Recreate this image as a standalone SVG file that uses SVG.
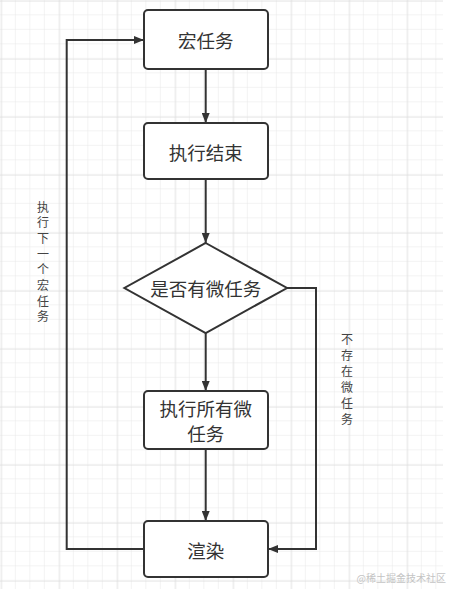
<svg xmlns="http://www.w3.org/2000/svg" width="450" height="589" viewBox="0 0 450 589">
<style>
.node{fill:#fff;stroke:#333;stroke-width:2}
.lbl{font-family:"Noto Sans CJK SC","Noto Sans",sans-serif;font-size:18.5px;fill:#333;text-anchor:middle;dominant-baseline:central}
.lbl2{font-family:"Noto Sans CJK SC","Noto Sans",sans-serif;font-size:18.5px;fill:#333;text-anchor:middle}
.side{font-family:"Noto Sans CJK SC","Noto Sans",sans-serif;font-size:12px;fill:#444;text-anchor:middle;dominant-baseline:central}
.edge{fill:none;stroke:#333;stroke-width:2}
</style>
<defs>
<pattern id="minor" x="1.3" y="0.8" width="14.5" height="14.5" patternUnits="userSpaceOnUse">
<path d="M14.5 0V14.5M0 14.5H14.5" fill="none" stroke="#e8e8e8" stroke-width="1"/>
</pattern>
<pattern id="major" x="1.3" y="0.8" width="58" height="58" patternUnits="userSpaceOnUse">
<path d="M0 0V58M0 0H58" fill="none" stroke="#d9d9d9" stroke-width="1"/>
</pattern>
<marker id="arr" viewBox="0 0 10 8" refX="10" refY="4" markerWidth="10" markerHeight="8" markerUnits="userSpaceOnUse" orient="auto">
<path d="M0 0L10 4L0 8Z" fill="#333"/>
</marker>
</defs>
<rect width="450" height="589" fill="#fff"/>
<rect x="0" y="0" width="443" height="589" fill="url(#minor)"/>
<rect x="0" y="0" width="443" height="589" fill="url(#major)"/>
<g id="connectors">
<path class="edge" d="M205.7 69V123" marker-end="url(#arr)"/>
<path class="edge" d="M205.7 179V243" marker-end="url(#arr)"/>
<path class="edge" d="M205.7 333V391" marker-end="url(#arr)"/>
<path class="edge" d="M205.7 449V521" marker-end="url(#arr)"/>
<path class="edge" d="M144 549H66.7V40H144" marker-end="url(#arr)"/>
<path class="edge" d="M287 288H316V549H268" marker-end="url(#arr)"/>
<text class="side" x="43" y="206">执</text>
<text class="side" x="43" y="221.7">行</text>
<text class="side" x="43" y="237.4">下</text>
<text class="side" x="43" y="253.1">一</text>
<text class="side" x="43" y="268.8">个</text>
<text class="side" x="43" y="284.5">宏</text>
<text class="side" x="43" y="300.2">任</text>
<text class="side" x="43" y="315.9">务</text>
<text class="side" x="347" y="338">不</text>
<text class="side" x="347" y="354">存</text>
<text class="side" x="347" y="370">在</text>
<text class="side" x="347" y="386">微</text>
<text class="side" x="347" y="402">任</text>
<text class="side" x="347" y="418">务</text>
</g>
<g id="macro">
<rect class="node" x="144" y="10" width="124" height="59" rx="4"/>
<text class="lbl" x="205.7" y="40">宏任务</text>
</g>
<g id="done">
<rect class="node" x="144" y="123" width="124" height="56" rx="4"/>
<text class="lbl" x="205.7" y="152">执行结束</text>
</g>
<g id="check">
<polygon class="node" points="205.7,243 287,288 205.7,333 124.4,288"/>
<text class="lbl" x="205.7" y="288">是否有微任务</text>
</g>
<g id="micro">
<rect class="node" x="144" y="391" width="124" height="58" rx="4"/>
<text class="lbl2" x="205.7" y="416">执行所有微</text>
<text class="lbl2" x="205.7" y="441">任务</text>
</g>
<g id="render">
<rect class="node" x="144" y="521" width="124" height="56" rx="4"/>
<text class="lbl" x="205.7" y="550">渲染</text>
</g>
<text x="446" y="582" font-family="'Noto Sans CJK SC',sans-serif" font-size="10" fill="#c4c4c4" text-anchor="end">@稀土掘金技术社区</text>
</svg>
